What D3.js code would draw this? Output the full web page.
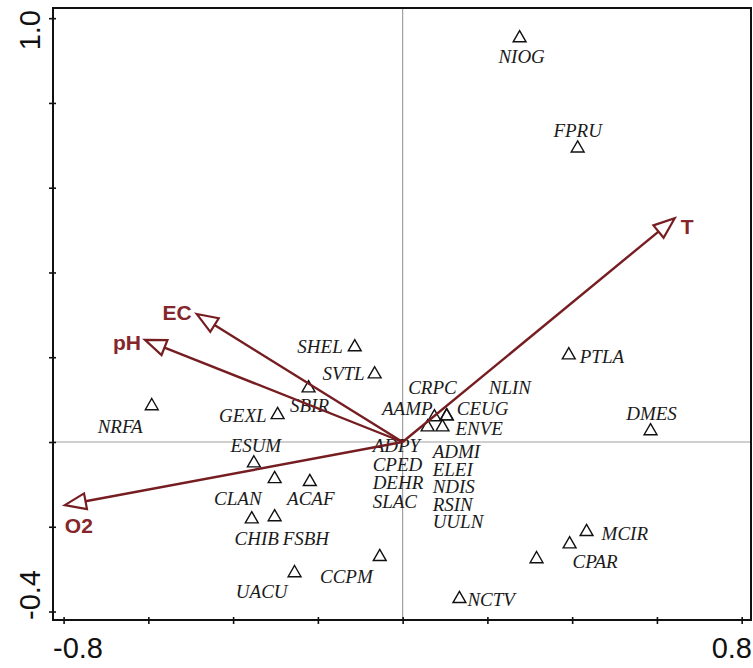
<!DOCTYPE html>
<html>
<head>
<meta charset="utf-8">
<script src="https://cdn.jsdelivr.net/npm/d3@7"></script>
<style>
  html, body { margin: 0; padding: 0; background: #fff; }
  svg { display: block; }
</style>
</head>
<body>
<svg id="chart" width="753" height="668"></svg>
<script>
// CCA biplot: species scores (triangles) and environmental vectors (arrows)

// Environmental variables: arrow tips in axis units
const envNames = ["T", "EC", "pH", "O2"];
const envX = [0.642, -0.486, -0.608, -0.797];
const envY = [0.528, 0.302, 0.241, -0.149];

// Species scores
const speciesNames = ["NIOG", "FPRU", "PTLA", "DMES", "MCIR", "CPAR", "", "NCTV",
  "CCPM", "UACU", "CHIB", "FSBH", "CLAN", "ACAF", "ESUM", "GEXL", "SBIR",
  "SHEL", "SVTL", "NRFA", "CRPC", "AAMP", "CEUG", "ENVE", "NLIN"];
const speciesX = [0.276, 0.413, 0.392, 0.585, 0.434, 0.394, 0.316, 0.134,
  -0.054, -0.255, -0.356, -0.302, -0.302, -0.219, -0.351, -0.295, -0.222,
  -0.113, -0.066, -0.592, 0.075, 0.059, 0.104, 0.094, 0.104];
const speciesY = [0.953, 0.693, 0.205, 0.026, -0.212, -0.241, -0.276, -0.370,
  -0.271, -0.309, -0.182, -0.177, -0.087, -0.094, -0.050, 0.064, 0.127,
  0.224, 0.160, 0.085, 0.059, 0.035, 0.061, 0.035, 0.061];

// Species sitting on the origin, listed in two columns beside it
const originLeft = ["ADPY", "CPED", "DEHR", "SLAC"];
const originRight = ["ADMI", "ELEI", "NDIS", "RSIN", "UULN"];

// Axis ticks
const xTicks = [-0.8, -0.6, -0.4, -0.2, 0, 0.2, 0.4, 0.6, 0.8];
const yTicks = [-0.4, -0.2, 0, 0.2, 0.4, 0.6, 0.8, 1.0];
const xTickLabels = ["-0.8", "0.8"];
const yTickLabels = ["-0.4", "1.0"];

// Label placement for species (pixel offsets from the symbol, text anchor)
const labelPos = {
  NIOG: [2, 25, "middle"], FPRU: [0, -11, "middle"], PTLA: [11, 8, "start"],
  DMES: [1, -11, "middle"], MCIR: [15, 8, "start"], CPAR: [3, 24, "start"],
  NCTV: [8, 7, "start"], CCPM: [-7, 26, "end"], UACU: [-7, 25, "end"],
  CHIB: [5, 26, "middle"], FSBH: [8, 28, "start"], CLAN: [-13, 26, "end"],
  ACAF: [1, 23, "middle"], ESUM: [2, -11, "middle"], GEXL: [-11, 7, "end"],
  SBIR: [1, 24, "middle"], SHEL: [-12, 6, "end"], SVTL: [-10, 6, "end"],
  NRFA: [-9, 27, "end"], CRPC: [-2, -23, "middle"], AAMP: [5, -12, "end"],
  CEUG: [10, -1, "start"], ENVE: [13, 8, "start"], NLIN: [42, -22, "start"]
};

const envLabelPos = {
  T: [6, 16, "start"], EC: [-5, 6, "end"], pH: [-4, 10, "end"], O2: [0, 28, "start"]
};

(function draw() {
  const arrowColor = "#761d22";
  const labelColor = "#85262b";

  const svg = d3.select("#chart");
  const pl = 53, pr = 751, pt = 8, pb = 620;

  const x = d3.scaleLinear().domain([-0.825, 0.822]).range([pl, pr]);
  const y = d3.scaleLinear().domain([-0.42, 1.024]).range([pb, pt]);

  // zero reference lines
  svg.append("line")
    .attr("x1", pl).attr("x2", pr).attr("y1", y(0)).attr("y2", y(0))
    .attr("stroke", "#a0a0a0").attr("stroke-width", 1.2);
  svg.append("line")
    .attr("x1", x(0)).attr("x2", x(0)).attr("y1", pt).attr("y2", pb)
    .attr("stroke", "#a0a0a0").attr("stroke-width", 1.2);

  // frame
  svg.append("rect")
    .attr("x", pl).attr("y", pt).attr("width", pr - pl).attr("height", pb - pt)
    .attr("fill", "none").attr("stroke", "#111").attr("stroke-width", 2);

  // ticks crossing the axis lines
  function styleAxis(g) {
    g.select(".domain").remove();
    g.selectAll(".tick line").attr("stroke", "#111").attr("stroke-width", 1.6);
    g.selectAll(".tick text").remove();
  }
  svg.append("g").attr("transform", `translate(0,${pb})`)
    .call(d3.axisBottom(x).tickValues(xTicks).tickSize(4).tickFormat("")).call(styleAxis);
  svg.append("g").attr("transform", `translate(0,${pb})`)
    .call(d3.axisTop(x).tickValues(xTicks).tickSize(3).tickFormat("")).call(styleAxis);
  svg.append("g").attr("transform", `translate(${pl},0)`)
    .call(d3.axisLeft(y).tickValues(yTicks).tickSize(4).tickFormat("")).call(styleAxis);
  svg.append("g").attr("transform", `translate(${pl},0)`)
    .call(d3.axisRight(y).tickValues(yTicks).tickSize(3).tickFormat("")).call(styleAxis);

  // end tick labels, kept inside the frame extent
  const tickFont = "'Liberation Sans', Arial, sans-serif";
  svg.append("text").attr("x", pl).attr("y", 658)
    .attr("text-anchor", "start").attr("font-family", tickFont).attr("font-size", 29)
    .attr("fill", "#111").text(xTickLabels[0]);
  svg.append("text").attr("x", pr + 1).attr("y", 658)
    .attr("text-anchor", "end").attr("font-family", tickFont).attr("font-size", 29)
    .attr("fill", "#111").text(xTickLabels[1]);
  svg.append("text").attr("transform", `translate(40,${pb}) rotate(-90)`)
    .attr("text-anchor", "start").attr("font-family", tickFont).attr("font-size", 29)
    .attr("fill", "#111").text(yTickLabels[0]);
  svg.append("text").attr("transform", `translate(40,${pt + 2}) rotate(-90)`)
    .attr("text-anchor", "end").attr("font-family", tickFont).attr("font-size", 29)
    .attr("fill", "#111").text(yTickLabels[1]);

  // species
  const spFont = "'Liberation Serif', 'Times New Roman', serif";
  const species = speciesNames.map((n, i) => ({ name: n, x: speciesX[i], y: speciesY[i] }));
  const tri = d3.symbol().type(d3.symbolTriangle).size(72);

  svg.append("g").selectAll("path").data(species).join("path")
    .attr("d", tri)
    .attr("transform", d => `translate(${x(d.x)},${y(d.y)})`)
    .attr("fill", "none").attr("stroke", "#111").attr("stroke-width", 1.4);

  svg.append("g").selectAll("text").data(species.filter(d => d.name)).join("text")
    .attr("x", d => x(d.x) + labelPos[d.name][0])
    .attr("y", d => y(d.y) + labelPos[d.name][1])
    .attr("text-anchor", d => labelPos[d.name][2])
    .attr("font-family", spFont).attr("font-style", "italic").attr("font-size", 19)
    .attr("fill", "#1a1a1a").text(d => d.name);

  // species at the origin
  svg.append("g").selectAll("text").data(originLeft).join("text")
    .attr("x", x(0) - 30).attr("y", (d, i) => y(0) + 10 + i * 18.6)
    .attr("font-family", spFont).attr("font-style", "italic").attr("font-size", 19)
    .attr("fill", "#1a1a1a").text(d => d);
  svg.append("g").selectAll("text").data(originRight).join("text")
    .attr("x", x(0) + 30).attr("y", (d, i) => y(0) + 16 + i * 17.6)
    .attr("font-family", spFont).attr("font-style", "italic").attr("font-size", 19)
    .attr("fill", "#1a1a1a").text(d => d);

  // environmental arrows
  const env = envNames.map((n, i) => ({ name: n, x: envX[i], y: envY[i] }));
  const headLen = 21, headHalf = 8;

  const arrows = svg.append("g");
  env.forEach(d => {
    const x0 = x(0), y0 = y(0), x1 = x(d.x), y1 = y(d.y);
    const len = Math.hypot(x1 - x0, y1 - y0);
    const ux = (x1 - x0) / len, uy = (y1 - y0) / len;
    const bx = x1 - ux * headLen, by = y1 - uy * headLen;
    arrows.append("line")
      .attr("x1", x0).attr("y1", y0).attr("x2", bx).attr("y2", by)
      .attr("stroke", arrowColor).attr("stroke-width", 2.4);
    const pts = [[x1, y1], [bx - uy * headHalf, by + ux * headHalf], [bx + uy * headHalf, by - ux * headHalf]];
    arrows.append("polygon")
      .attr("points", pts.map(p => p.join(",")).join(" "))
      .attr("fill", "#fff").attr("stroke", arrowColor).attr("stroke-width", 2.2)
      .attr("stroke-linejoin", "miter");
    const lp = envLabelPos[d.name];
    arrows.append("text")
      .attr("x", x1 + lp[0]).attr("y", y1 + lp[1]).attr("text-anchor", lp[2])
      .attr("font-family", tickFont).attr("font-weight", "bold").attr("font-size", 21)
      .attr("fill", labelColor).text(d.name);
  });
})();
</script>
</body>
</html>
